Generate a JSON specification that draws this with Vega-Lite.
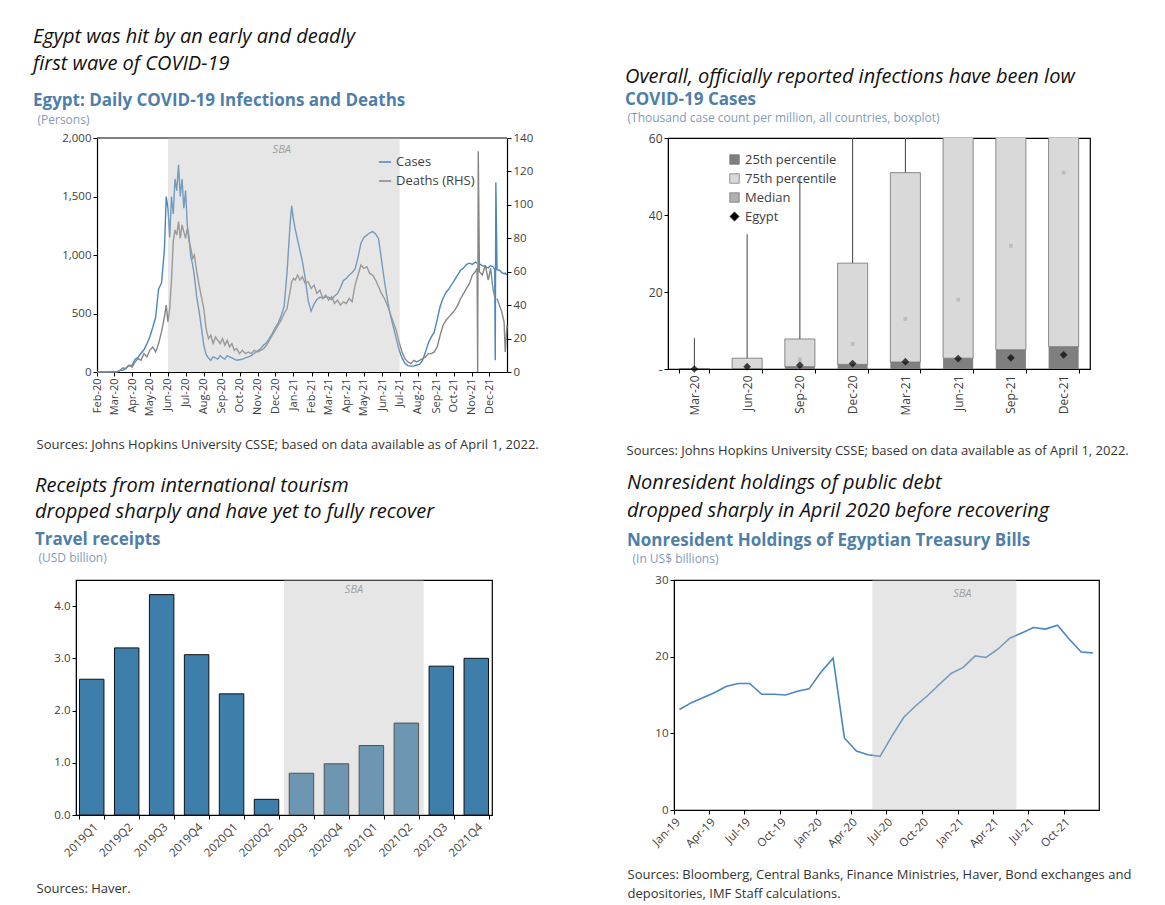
{
"$schema": "https://vega.github.io/schema/vega-lite/v6.json",
"background": "white",
"padding": {"left": 33, "top": 27, "right": 5, "bottom": 5},
"datasets": {
"covid": [
{"d":"2020-02-01","c":0,"k":0},{"d":"2020-02-06","c":0,"k":0},{"d":"2020-02-11","c":0,"k":0},{"d":"2020-02-16","c":1,"k":0},{"d":"2020-02-21","c":0,"k":0},{"d":"2020-02-26","c":1,"k":0},
{"d":"2020-03-01","c":2,"k":0},{"d":"2020-03-06","c":3,"k":0},{"d":"2020-03-11","c":12,"k":1},{"d":"2020-03-16","c":35,"k":1},{"d":"2020-03-21","c":30,"k":2},{"d":"2020-03-26","c":54,"k":4},
{"d":"2020-04-01","c":60,"k":3},{"d":"2020-04-06","c":110,"k":6},{"d":"2020-04-11","c":125,"k":8},{"d":"2020-04-16","c":160,"k":7},{"d":"2020-04-21","c":190,"k":11},{"d":"2020-04-26","c":240,"k":9},
{"d":"2020-05-01","c":300,"k":13},{"d":"2020-05-06","c":380,"k":15},{"d":"2020-05-11","c":470,"k":12},{"d":"2020-05-16","c":710,"k":17},{"d":"2020-05-21","c":760,"k":24},{"d":"2020-05-26","c":1050,"k":33},{"d":"2020-05-29","c":1500,"k":40},
{"d":"2020-06-01","c":1400,"k":30},{"d":"2020-06-04","c":1150,"k":38},{"d":"2020-06-07","c":1500,"k":55},{"d":"2020-06-10","c":1350,"k":78},{"d":"2020-06-13","c":1650,"k":85},{"d":"2020-06-16","c":1550,"k":82},{"d":"2020-06-19","c":1770,"k":90},{"d":"2020-06-22","c":1500,"k":80},{"d":"2020-06-25","c":1650,"k":88},{"d":"2020-06-28","c":1400,"k":84},
{"d":"2020-07-01","c":1550,"k":80},{"d":"2020-07-04","c":1250,"k":86},{"d":"2020-07-07","c":1150,"k":78},{"d":"2020-07-10","c":980,"k":74},{"d":"2020-07-13","c":920,"k":68},{"d":"2020-07-16","c":820,"k":70},{"d":"2020-07-20","c":640,"k":60},{"d":"2020-07-24","c":520,"k":52},{"d":"2020-07-28","c":380,"k":45},
{"d":"2020-08-01","c":230,"k":38},{"d":"2020-08-05","c":150,"k":26},{"d":"2020-08-09","c":120,"k":20},{"d":"2020-08-13","c":100,"k":22},{"d":"2020-08-17","c":130,"k":17},{"d":"2020-08-21","c":120,"k":21},{"d":"2020-08-25","c":110,"k":19},{"d":"2020-08-29","c":140,"k":17},
{"d":"2020-09-02","c":120,"k":20},{"d":"2020-09-06","c":110,"k":16},{"d":"2020-09-10","c":140,"k":19},{"d":"2020-09-14","c":130,"k":15},{"d":"2020-09-18","c":120,"k":17},{"d":"2020-09-22","c":110,"k":13},{"d":"2020-09-26","c":100,"k":14},
{"d":"2020-10-01","c":105,"k":11},{"d":"2020-10-06","c":110,"k":13},{"d":"2020-10-11","c":120,"k":11},{"d":"2020-10-16","c":130,"k":12},{"d":"2020-10-21","c":140,"k":11},{"d":"2020-10-26","c":160,"k":13},
{"d":"2020-11-01","c":180,"k":12},{"d":"2020-11-06","c":200,"k":13},{"d":"2020-11-11","c":230,"k":14},{"d":"2020-11-16","c":250,"k":16},{"d":"2020-11-21","c":290,"k":19},{"d":"2020-11-26","c":330,"k":22},
{"d":"2020-12-01","c":380,"k":25},{"d":"2020-12-06","c":420,"k":28},{"d":"2020-12-11","c":480,"k":31},{"d":"2020-12-16","c":560,"k":35},{"d":"2020-12-21","c":850,"k":38},{"d":"2020-12-26","c":1250,"k":48},{"d":"2020-12-29","c":1420,"k":54},
{"d":"2021-01-01","c":1300,"k":56},{"d":"2021-01-04","c":1220,"k":55},{"d":"2021-01-08","c":1130,"k":58},{"d":"2021-01-12","c":1040,"k":55},{"d":"2021-01-16","c":950,"k":57},{"d":"2021-01-21","c":800,"k":53},{"d":"2021-01-26","c":610,"k":54},{"d":"2021-01-31","c":520,"k":50},
{"d":"2021-02-05","c":580,"k":52},{"d":"2021-02-10","c":620,"k":47},{"d":"2021-02-15","c":640,"k":49},{"d":"2021-02-20","c":630,"k":44},{"d":"2021-02-25","c":640,"k":46},
{"d":"2021-03-02","c":640,"k":43},{"d":"2021-03-07","c":620,"k":45},{"d":"2021-03-12","c":650,"k":41},{"d":"2021-03-17","c":670,"k":43},{"d":"2021-03-22","c":720,"k":40},{"d":"2021-03-27","c":780,"k":42},
{"d":"2021-04-01","c":800,"k":41},{"d":"2021-04-06","c":830,"k":44},{"d":"2021-04-11","c":850,"k":42},{"d":"2021-04-16","c":880,"k":52},{"d":"2021-04-21","c":980,"k":58},{"d":"2021-04-26","c":1100,"k":64},
{"d":"2021-05-01","c":1150,"k":62},{"d":"2021-05-06","c":1170,"k":63},{"d":"2021-05-11","c":1190,"k":59},{"d":"2021-05-16","c":1200,"k":58},{"d":"2021-05-21","c":1180,"k":55},{"d":"2021-05-26","c":1140,"k":51},{"d":"2021-05-31","c":960,"k":47},
{"d":"2021-06-05","c":780,"k":44},{"d":"2021-06-10","c":620,"k":40},{"d":"2021-06-15","c":490,"k":35},{"d":"2021-06-20","c":390,"k":30},{"d":"2021-06-25","c":290,"k":25},{"d":"2021-06-30","c":190,"k":18},
{"d":"2021-07-05","c":120,"k":12},{"d":"2021-07-10","c":75,"k":8},{"d":"2021-07-15","c":55,"k":6},{"d":"2021-07-20","c":50,"k":5},{"d":"2021-07-25","c":50,"k":7},{"d":"2021-07-30","c":60,"k":6},
{"d":"2021-08-04","c":65,"k":7},{"d":"2021-08-09","c":100,"k":8},{"d":"2021-08-14","c":170,"k":9},{"d":"2021-08-19","c":250,"k":11},{"d":"2021-08-24","c":300,"k":11},{"d":"2021-08-29","c":340,"k":12},
{"d":"2021-09-03","c":450,"k":15},{"d":"2021-09-08","c":560,"k":22},{"d":"2021-09-13","c":630,"k":28},{"d":"2021-09-18","c":680,"k":31},{"d":"2021-09-23","c":710,"k":33},{"d":"2021-09-28","c":750,"k":35},
{"d":"2021-10-03","c":790,"k":37},{"d":"2021-10-08","c":830,"k":40},{"d":"2021-10-13","c":870,"k":44},{"d":"2021-10-18","c":890,"k":47},{"d":"2021-10-23","c":920,"k":50},{"d":"2021-10-28","c":930,"k":53},
{"d":"2021-11-02","c":920,"k":58},{"d":"2021-11-07","c":940,"k":60},{"d":"2021-11-10","c":930,"k":62},{"d":"2021-11-11","k":0},{"d":"2021-11-12","k":132},{"d":"2021-11-14","c":925,"k":60},{"d":"2021-11-19","c":910,"k":58},{"d":"2021-11-24","c":900,"k":64},{"d":"2021-11-29","c":890,"k":55},
{"d":"2021-12-03","c":910,"k":62},{"d":"2021-12-07","c":900,"k":50},{"d":"2021-12-10","c":880,"k":45},{"d":"2021-12-11","c":100},{"d":"2021-12-12","c":1620},{"d":"2021-12-14","c":875,"k":44},{"d":"2021-12-18","c":870,"k":40},{"d":"2021-12-22","c":850,"k":36},{"d":"2021-12-26","c":840,"k":30},{"d":"2021-12-28","c":845,"k":12},{"d":"2021-12-31","c":830,"k":28}
],
"sba1": [{"d":"2020-06-01","d2":"2021-07-01"}],
"sba1t": [{"d":"2020-12-12","t":"SBA"}],
"box": [
{"q":"Mar-20","p25":0,"p75":0.1,"md":0,"mx":8,"eg":0},
{"q":"Jun-20","p25":0.1,"p75":2.8,"md":0.8,"mx":35,"eg":0.6},
{"q":"Sep-20","p25":0.6,"p75":7.8,"md":2.5,"mx":50,"eg":1.0},
{"q":"Dec-20","p25":1.2,"p75":27.5,"md":6.5,"mx":75,"eg":1.4},
{"q":"Mar-21","p25":1.8,"p75":51,"md":13,"mx":90,"eg":1.9},
{"q":"Jun-21","p25":2.8,"p75":70,"md":18,"mx":110,"eg":2.7},
{"q":"Sep-21","p25":5,"p75":80,"md":32,"mx":130,"eg":2.9},
{"q":"Dec-21","p25":5.8,"p75":90,"md":51,"mx":150,"eg":3.7}
],
"travel": [
{"q":"2019Q1","v":2.6},{"q":"2019Q2","v":3.2},{"q":"2019Q3","v":4.22},{"q":"2019Q4","v":3.07},
{"q":"2020Q1","v":2.32},{"q":"2020Q2","v":0.3},{"q":"2020Q3","v":0.8},{"q":"2020Q4","v":0.98},
{"q":"2021Q1","v":1.33},{"q":"2021Q2","v":1.76},{"q":"2021Q3","v":2.85},{"q":"2021Q4","v":3.0}
],
"sba3": [{"q":"2020Q3","q2":"2021Q2"}],
"sba3t": [{"q":"2021Q1","t":"SBA"}],
"tbills": [
{"d":"2019-01-15","v":13.1},{"d":"2019-02-15","v":14.0},{"d":"2019-03-15","v":14.6},{"d":"2019-04-15","v":15.3},{"d":"2019-05-15","v":16.1},{"d":"2019-06-15","v":16.5},
{"d":"2019-07-15","v":16.5},{"d":"2019-08-15","v":15.1},{"d":"2019-09-15","v":15.1},{"d":"2019-10-15","v":15.0},{"d":"2019-11-15","v":15.5},{"d":"2019-12-15","v":15.8},
{"d":"2020-01-15","v":18.0},{"d":"2020-02-15","v":19.8},{"d":"2020-03-15","v":9.4},{"d":"2020-04-15","v":7.7},{"d":"2020-05-15","v":7.2},{"d":"2020-06-15","v":7.0},
{"d":"2020-07-15","v":9.6},{"d":"2020-08-15","v":12.1},{"d":"2020-09-15","v":13.6},{"d":"2020-10-15","v":14.9},{"d":"2020-11-15","v":16.4},{"d":"2020-12-15","v":17.8},
{"d":"2021-01-15","v":18.6},{"d":"2021-02-15","v":20.1},{"d":"2021-03-15","v":19.9},{"d":"2021-04-15","v":21.0},{"d":"2021-05-15","v":22.4},{"d":"2021-06-15","v":23.1},
{"d":"2021-07-15","v":23.8},{"d":"2021-08-15","v":23.6},{"d":"2021-09-15","v":24.1},{"d":"2021-10-15","v":22.3},{"d":"2021-11-15","v":20.6},{"d":"2021-12-15","v":20.5}
],
"sba4": [{"d":"2020-05-26","d2":"2021-06-01"}],
"sba4t": [{"d":"2021-01-13","t":"SBA"}]
},
"concat": [
{
"hconcat": [
{
"width": 431, "height": 234,
"view": {"stroke": null},
"title": {"text": ["Egypt was hit by an early and deadly", "first wave of COVID-19"], "subtitle": "Egypt: Daily COVID-19 Infections and Deaths", "dx": -43, "offset": 4, "subtitlePadding": 19, "lineHeight": 27},
"layer": [
{"layer": [
{"data": {"name": "covid"}, "mark": {"type": "line", "strokeWidth": 1.4},
"encoding": {
"x": {"field": "d", "type": "temporal", "scale": {"type": "utc", "range": [21, 431], "domain": [{"year": 2020, "month": 2, "date": 1, "utc": true}, {"year": 2021, "month": 12, "date": 31, "utc": true}]}, "axis": {"labelExpr": "utcFormat(datum.value, '%b-%y')", "labelAngle": -90, "tickCount": {"interval": "month", "step": 1}, "labelOverlap": false, "labelFontSize": 11, "domainWidth": 1.2, "title": "Sources: Johns Hopkins University CSSE; based on data available as of April 1, 2022.", "titleX": -40, "titleY": 66, "titleAlign": "left", "titleBaseline": "top"}},
"y": {"field": "c", "type": "quantitative", "scale": {"domain": [0, 2000]}, "axis": {"offset": -21, "domainWidth": 1.2, "title": "(Persons)", "titleAngle": 0, "titleX": -60, "titleY": -19, "titleAlign": "left", "titleBaseline": "middle", "titleColor": "#7f9cba", "titleFontSize": 12, "values": [0, 500, 1000, 1500, 2000], "format": ",d"}},
"color": {"datum": "Cases", "type": "nominal", "scale": {"domain": ["Cases", "Deaths (RHS)"], "range": ["#4a86c0", "#858585"]}, "legend": {"orient": "none", "legendX": 302, "legendY": 17, "title": null, "symbolType": "stroke", "symbolStrokeWidth": 1.5, "symbolSize": 150, "labelFontSize": 13, "rowPadding": 5}}
}},
{"data": {"name": "sba1t"}, "mark": {"type": "text", "fontStyle": "italic", "fontSize": 11, "color": "#8a8a8a"},
"encoding": {
"x": {"field": "d", "type": "temporal"},
"y": {"datum": 1900, "type": "quantitative"},
"text": {"field": "t"}
}},
{"data": {"name": "sba1"}, "mark": {"type": "rule", "color": "#000", "strokeWidth": 1.2},
"encoding": {
"x": {"datum": {"year": 2020, "month": 2, "date": 1, "utc": true}, "type": "temporal"},
"x2": {"datum": {"year": 2021, "month": 12, "date": 31, "utc": true}},
"y": {"datum": 2000, "type": "quantitative"}
}}
]},
{"data": {"name": "covid"}, "mark": {"type": "line", "strokeWidth": 1.4},
"encoding": {
"x": {"field": "d", "type": "temporal"},
"y": {"field": "k", "type": "quantitative", "scale": {"domain": [0, 140]}, "axis": {"orient": "right", "domainWidth": 1.2, "title": null, "values": [0, 20, 40, 60, 80, 100, 120, 140]}},
"color": {"datum": "Deaths (RHS)", "type": "nominal"}
}},
{"data": {"name": "sba1"}, "mark": {"type": "rect", "color": "#bcbcbc", "opacity": 0.38},
"encoding": {
"x": {"field": "d", "type": "temporal"},
"x2": {"field": "d2"}
}}
],
"resolve": {"scale": {"y": "independent"}}
},
{
"width": 422, "height": 231,
"title": {"text": "Overall, officially reported infections have been low", "subtitle": "COVID-19 Cases", "dx": -43, "subtitlePadding": 5, "offset": 3},
"data": {"name": "box"},
"encoding": {
"x": {"field": "q", "type": "ordinal", "sort": null, "scale": {"domain": ["Mar-20", "Jun-20", "Sep-20", "Dec-20", "Mar-21", "Jun-21", "Sep-21", "Dec-21"], "paddingInner": 0.43, "paddingOuter": 0.215}, "axis": {"labelAngle": -90, "tickBand": "extent", "labelFontSize": 12, "title": "Sources: Johns Hopkins University CSSE; based on data available as of April 1, 2022.", "titleX": -42, "titleY": 75, "titleAlign": "left", "titleBaseline": "top"}}
},
"layer": [
{"mark": {"type": "rule", "color": "#404040", "strokeWidth": 1, "clip": true},
"encoding": {
"y": {"field": "p75", "type": "quantitative", "scale": {"domain": [0, 60]}, "axis": {"values": [0, 10, 20, 30, 40, 50, 60], "labelExpr": "datum.value === 0 ? '-' : datum.label", "labelFontSize": 12, "title": "(Thousand case count per million, all countries, boxplot)", "titleAngle": 0, "titleX": -41, "titleY": -21, "titleAlign": "left", "titleBaseline": "middle", "titleColor": "#7f9cba", "titleFontSize": 12}},
"y2": {"field": "mx"}
}},
{"mark": {"type": "bar", "clip": true},
"encoding": {
"y": {"field": "p25", "type": "quantitative"},
"color": {"datum": "25th percentile", "type": "nominal", "scale": {"domain": ["25th percentile", "75th percentile", "Median", "Egypt"], "range": ["#7f7f7f", "#d9d9d9", "#b0b0b0", "#000000"]}, "legend": {"orient": "none", "legendX": 60, "legendY": 15, "title": null, "symbolSize": 90, "symbolStrokeColor": "#666", "symbolStrokeWidth": 0.7, "labelFontSize": 13, "rowPadding": 5}}
}},
{"mark": {"type": "bar", "stroke": "#6f6f6f", "strokeWidth": 0.8, "clip": true},
"encoding": {
"y": {"field": "p25", "type": "quantitative"},
"y2": {"field": "p75"},
"color": {"datum": "75th percentile", "type": "nominal"}
}},
{"mark": {"type": "point", "filled": true, "size": 14, "clip": true},
"encoding": {
"y": {"field": "md", "type": "quantitative"},
"color": {"datum": "Median", "type": "nominal"},
"shape": {"datum": "Median", "type": "nominal", "scale": {"domain": ["25th percentile", "75th percentile", "Median", "Egypt"], "range": ["square", "square", "square", "diamond"]}, "legend": {"orient": "none", "legendX": 60, "legendY": 15, "title": null, "symbolSize": 90, "labelFontSize": 13, "rowPadding": 5}}
}},
{"mark": {"type": "point", "filled": true, "size": 60},
"encoding": {
"y": {"field": "eg", "type": "quantitative"},
"color": {"datum": "Egypt", "type": "nominal"},
"shape": {"datum": "Egypt", "type": "nominal"}
}}
]
}
],
"spacing": 85,
"resolve": {"scale": {"color": "independent", "shape": "independent"}}
},
{
"hconcat": [
{
"width": 416, "height": 235,
"title": {"text": ["Receipts from international tourism", "dropped sharply and have yet to fully recover"], "subtitle": "Travel receipts", "dx": -41, "offset": 3, "subtitlePadding": 10, "lineHeight": 26},
"layer": [
{"data": {"name": "travel"}, "mark": {"type": "bar", "color": "#3d7eab", "stroke": "#111", "strokeWidth": 1},
"encoding": {
"x": {"field": "q", "type": "ordinal", "scale": {"paddingInner": 0.3, "paddingOuter": 0.1}, "axis": {"labelAngle": -45, "tickBand": "extent", "labelFontSize": 11.5, "title": "Sources: Haver.", "titleX": -40, "titleY": 67, "titleAlign": "left", "titleBaseline": "top"}},
"y": {"field": "v", "type": "quantitative", "scale": {"domain": [0, 4.5]}, "axis": {"values": [0, 0.5, 1, 1.5, 2, 2.5, 3, 3.5, 4, 4.5], "format": ".1f", "title": "(USD billion)", "titleAngle": 0, "titleX": -38, "titleY": -23, "titleAlign": "left", "titleBaseline": "middle", "titleColor": "#7f9cba", "titleFontSize": 12}}
}},
{"data": {"name": "sba3"}, "mark": {"type": "rect", "color": "#bcbcbc", "opacity": 0.38},
"encoding": {
"x": {"field": "q", "type": "ordinal", "bandPosition": -0.21},
"x2": {"field": "q2", "bandPosition": 1.21}
}},
{"data": {"name": "sba3t"}, "mark": {"type": "text", "fontStyle": "italic", "fontSize": 11, "color": "#a0a0a0"},
"encoding": {
"x": {"field": "q", "type": "ordinal", "bandPosition": -0.21},
"y": {"datum": 4.3, "type": "quantitative"},
"text": {"field": "t"}
}}
]
},
{
"width": 425, "height": 230,
"title": {"text": ["Nonresident holdings of public debt", "dropped sharply in April 2020 before recovering"], "subtitle": "Nonresident Holdings of Egyptian Treasury Bills", "dx": -47, "offset": 3, "subtitlePadding": 12, "lineHeight": 28},
"layer": [
{"data": {"name": "tbills"}, "mark": {"type": "line", "color": "#4a86c0", "strokeWidth": 1.6},
"encoding": {
"x": {"field": "d", "type": "temporal", "scale": {"type": "utc", "domain": [{"year": 2019, "month": 1, "date": 1, "utc": true}, {"year": 2021, "month": 12, "date": 31, "utc": true}]}, "axis": {"labelExpr": "utcFormat(datum.value, '%b-%y')", "labelAngle": -45, "tickCount": {"interval": "month", "step": 3}, "labelOverlap": false, "labelFontSize": 11.5, "title": ["Sources: Bloomberg, Central Banks, Finance Ministries, Haver, Bond exchanges and", "depositories, IMF Staff calculations."], "titleX": -47, "titleY": 58, "titleAlign": "left", "titleBaseline": "top", "titleLineHeight": 19}},
"y": {"field": "v", "type": "quantitative", "scale": {"domain": [0, 30]}, "axis": {"values": [0, 5, 10, 15, 20, 25, 30], "title": "(In US$ billions)", "titleAngle": 0, "titleX": -42, "titleY": -22, "titleAlign": "left", "titleBaseline": "middle", "titleColor": "#7f9cba", "titleFontSize": 12}}
}},
{"data": {"name": "sba4"}, "mark": {"type": "rect", "color": "#bcbcbc", "opacity": 0.38},
"encoding": {
"x": {"field": "d", "type": "temporal"},
"x2": {"field": "d2"}
}},
{"data": {"name": "sba4t"}, "mark": {"type": "text", "fontStyle": "italic", "fontSize": 11, "color": "#a0a0a0"},
"encoding": {
"x": {"field": "d", "type": "temporal"},
"y": {"datum": 28.2, "type": "quantitative"},
"text": {"field": "t"}
}}
]
}
],
"spacing": 133
}
],
"columns": 1,
"align": "none",
"spacing": 14,
"resolve": {"scale": {"color": "independent", "shape": "independent"}},
"config": {
"font": "Open Sans",
"view": {"stroke": "#000", "strokeWidth": 1.2},
"axis": {"grid": false, "domainColor": "#000", "tickColor": "#000", "labelColor": "#404040", "labelFontSize": 11.5, "labelFont": "Open Sans", "titleFont": "Open Sans", "titleFontWeight": "normal", "titleColor": "#333", "titleFontSize": 13, "tickSize": 4},
"legend": {"labelFont": "Open Sans", "labelColor": "#404040"},
"title": {"anchor": "start", "frame": "group", "font": "Open Sans", "fontSize": 20, "fontStyle": "italic", "fontWeight": "normal", "color": "#111", "lineHeight": 27, "subtitleFont": "Open Sans", "subtitleFontSize": 17, "subtitleFontWeight": "bold", "subtitleColor": "#4f7fa9", "subtitlePadding": 14, "offset": 4}
}
}
